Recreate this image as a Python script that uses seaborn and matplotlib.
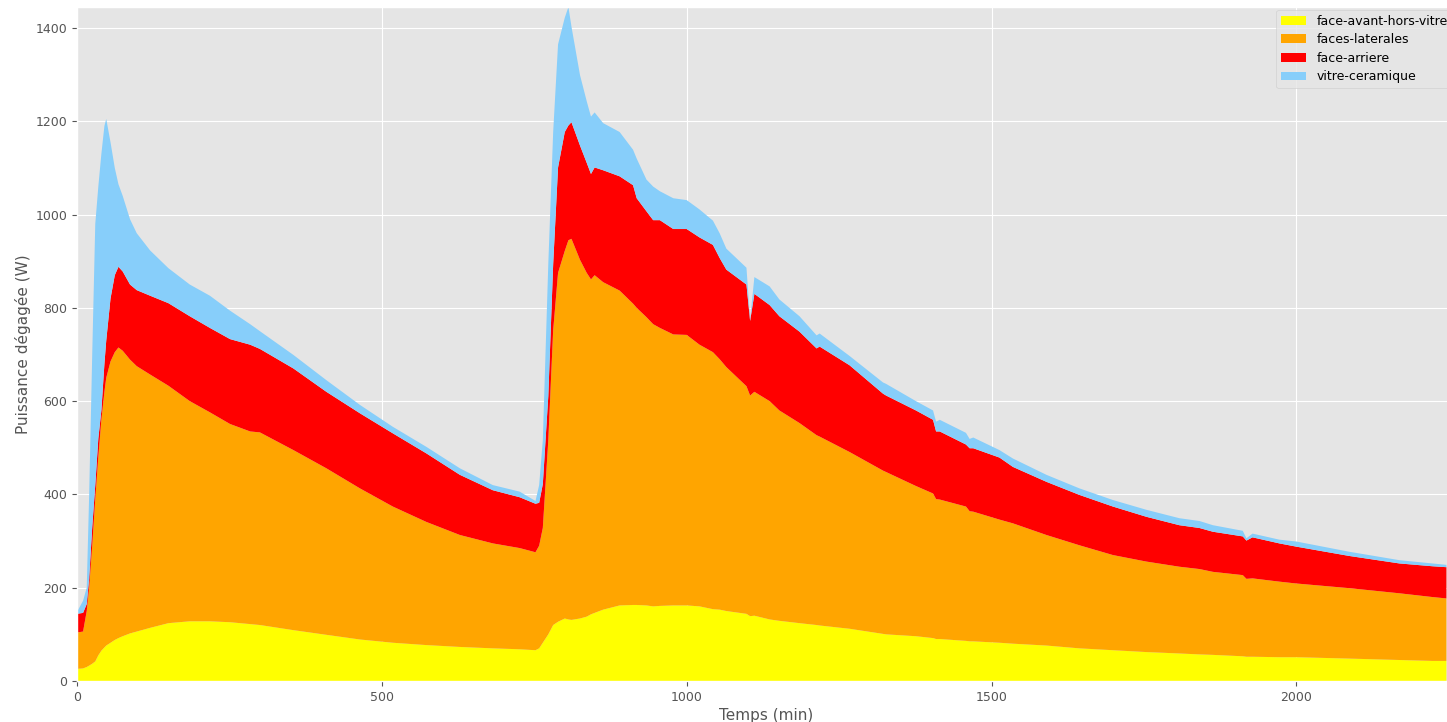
import matplotlib
matplotlib.use("Agg")
import matplotlib.pyplot as plt
import seaborn as sns

# temps en minutes
temps = [0, 10, 16, 20, 25, 30, 35, 40, 45, 48, 55, 62, 68, 75, 87, 98, 120, 150, 185, 218,
         251, 284, 300, 355, 409, 464, 518, 573, 628, 682, 726, 752, 758, 764, 773, 781, 789,
         800, 806, 811, 825, 836, 843, 849, 863, 890, 912, 918, 934, 945, 956, 978, 1000,
         1021, 1043, 1054, 1065, 1098, 1104, 1111, 1136, 1152, 1185, 1213, 1218, 1267, 1322,
         1327, 1376, 1404, 1409, 1415, 1458, 1464, 1470, 1513, 1535, 1590, 1644, 1699, 1754,
         1808, 1841, 1863, 1912, 1918, 1928, 1972, 2000, 2087, 2169, 2223, 2246]

# puissance par face (W)
face_avant = [26, 27, 30, 33, 37, 42, 55, 65, 72, 76, 82, 88, 92, 96, 102, 106, 114, 124, 128, 128,
              126, 122, 120, 109, 99, 89, 82, 77, 73, 70, 68, 66, 70, 82, 100, 120, 127,
              134, 132, 131, 134, 138, 143, 146, 153, 162, 163, 163, 162, 160, 161, 162, 162,
              160, 154, 153, 150, 144, 139, 140, 132, 129, 124, 120, 119, 112, 101,
              100, 96, 92, 90, 90, 86, 85, 85, 82, 80, 76, 70, 66, 62,
              59, 57, 56, 53, 52, 52, 51, 51, 48, 45, 43, 43]
faces_laterales = [78, 79, 120, 167, 253, 348, 425, 495, 548, 574, 603, 617, 623, 612, 587, 569, 543, 509, 472, 448,
                   425, 413, 413, 386, 357, 324, 292, 264, 240, 225, 217, 210, 220, 246, 416, 632, 748,
                   788, 813, 817, 769, 737, 718, 724, 702, 675, 646, 637, 618, 605, 596, 581, 580,
                   561, 551, 537, 523, 488, 473, 480, 468, 451, 429, 407, 405, 379, 350,
                   348, 322, 310, 300, 299, 288, 279, 278, 264, 258, 237, 221, 204, 194,
                   186, 183, 178, 174, 167, 168, 162, 158, 151, 143, 137, 134]
face_arriere = [40, 40, 15, 20, 40, 30, 40, 20, 60, 80, 135, 165, 173, 170, 161, 163, 169, 177, 182, 181,
                182, 186, 179, 175, 164, 161, 157, 147, 129, 114, 109, 104, 92, 94, 95, 142, 226,
                255, 246, 250, 245, 236, 226, 231, 240, 245, 254, 235, 227, 223, 231, 226, 227,
                230, 230, 217, 209, 218, 160, 210, 206, 202, 196, 186, 193, 186, 165,
                164, 162, 158, 145, 146, 133, 135, 136, 133, 121, 114, 108, 104, 96,
                89, 88, 86, 83, 82, 88, 82, 79, 69, 64, 66, 67]
vitre = [4, 26, 35, 180, 370, 560, 540, 550, 510, 475, 335, 230, 177, 162, 140, 122, 97, 75, 68, 69,
         61, 44, 38, 29, 25, 18, 14, 14, 14, 11, 12, 6, 38, 94, 283, 283, 264,
         245, 254, 205, 151, 132, 123, 118, 101, 95, 76, 85, 68, 72, 62, 66, 62,
         60, 52, 53, 45, 36, 3, 36, 40, 36, 33, 28, 28, 20, 24,
         25, 20, 20, 21, 25, 25, 20, 23, 16, 18, 15, 14, 14, 15,
         15, 15, 14, 12, 5, 8, 8, 11, 9, 7, 6, 5]

noms = ["face-avant-hors-vitre", "faces-laterales", "face-arriere", "vitre-ceramique"]
couleurs = ["yellow", "orange", "red", "lightskyblue"]

plt.style.use("ggplot")
sns.set_palette(couleurs)

fig = plt.figure(figsize=(14.47, 7.22), dpi=100)
ax = fig.add_axes([0.0532, 0.0568, 0.9523, 0.9335])

ax.stackplot(temps, face_avant, faces_laterales, face_arriere, vitre,
             labels=noms, linewidth=0)

ax.set_xlim(0, 2260)
ax.set_ylim(0, 1445)
ax.set_xticks([0, 500, 1000, 1500, 2000])
ax.set_yticks([0, 200, 400, 600, 800, 1000, 1200, 1400])
ax.tick_params(labelsize=9)
ax.set_xlabel("Temps (min)", fontsize=11, labelpad=3)
ax.set_ylabel("Puissance dégagée (W)", fontsize=11, labelpad=3)
ax.legend(loc="upper right", fontsize=9, labelspacing=0.45, borderaxespad=0.2)

fig.savefig("out.png", dpi=100)
